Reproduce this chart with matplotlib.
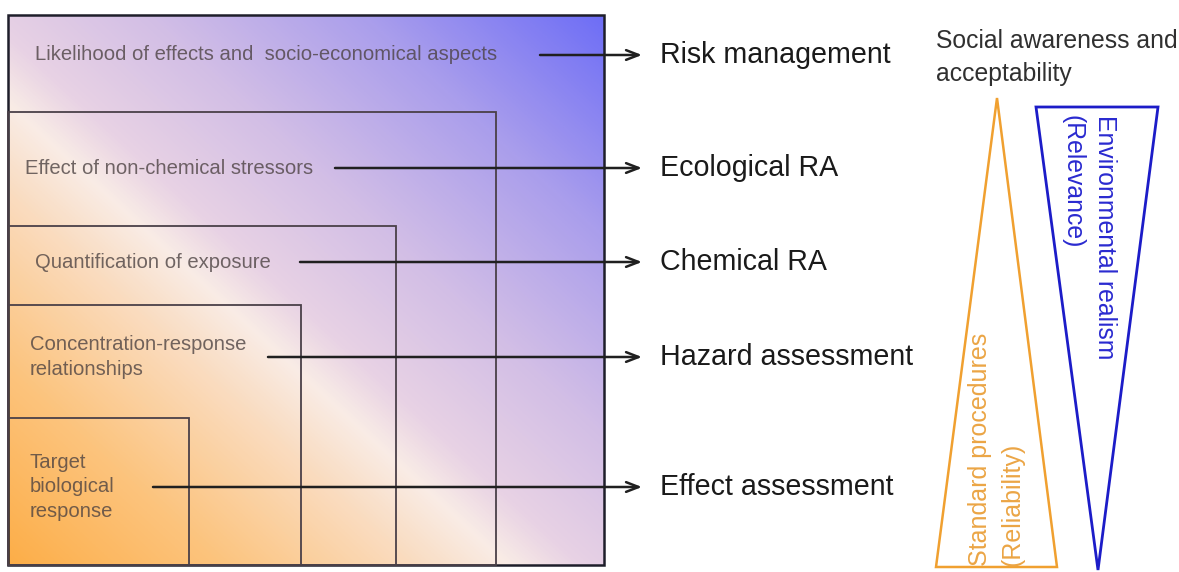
import numpy as np
import matplotlib
matplotlib.use('Agg')
from matplotlib import pyplot as plt
from matplotlib.colors import LinearSegmentedColormap
from matplotlib.patches import Polygon, Rectangle

plt.rcParams['font.family'] = ['Liberation Sans', 'DejaVu Sans']

# nested boxes: (label, right edge, top edge) in pixel units of the picture
box_labels = ['Likelihood of effects and  socio-economical aspects',
              'Effect of non-chemical stressors',
              'Quantification of exposure',
              'Concentration-response\nrelationships',
              'Target\nbiological\nresponse']
box_right = [604, 496, 396, 301, 189]
box_top = [15, 112, 226, 305, 418]
label_x = [35, 25, 35, 30, 30]
label_y = [55, 168, 262, 357, 487]
line_start = [540, 335, 300, 268, 153]
stages = ['Risk management', 'Ecological RA', 'Chemical RA',
          'Hazard assessment', 'Effect assessment']

box_left = 8
box_bottom = 565

fig = plt.figure(figsize=(11.79, 5.72), dpi=100)
ax = fig.add_axes([0, 0, 1, 1])
ax.set_xlim(0, 1179)
ax.set_ylim(572, 0)
ax.axis('off')

# diagonal background gradient (orange bottom-left -> white streak -> blue top-right)
grad = LinearSegmentedColormap.from_list('bg', [
    (0.0, '#fdae48'), (0.18, '#fcc47e'), (0.34, '#fadcc0'), (0.42, '#f9ece6'),
    (0.48, '#e8d2e4'), (0.62, '#d2bee6'), (0.8, '#aa9eec'), (1.0, '#6e6ef6')])
xx, yy = np.meshgrid(np.linspace(0, 1, 400), np.linspace(0, 1, 400))
u = (xx + (1 - yy)) / 2
ax.imshow(u, cmap=grad, extent=[box_left, box_right[0], box_bottom, box_top[0]],
          aspect='auto', origin='upper', zorder=0)

for i in range(len(box_labels)):
    lw = 1.8 if i == 0 else 1.3
    col = '#1e1e2a' if i == 0 else '#4a4048'
    ax.add_patch(Rectangle((box_left, box_top[i]), box_right[i] - box_left,
                           box_bottom - box_top[i], fill=False, lw=lw,
                           edgecolor=col, zorder=2))
    ax.text(label_x[i], label_y[i], box_labels[i], fontsize=14.6, color='#4a4040',
            alpha=0.78, ha='left', va='center', linespacing=1.38, zorder=3)
    ax.annotate('', xy=(642, label_y[i]), xytext=(line_start[i], label_y[i]),
                arrowprops=dict(arrowstyle='->,head_length=0.9,head_width=0.35',
                                lw=1.8, color='#202020', shrinkA=0, shrinkB=0),
                zorder=4)
    ax.text(660, label_y[i], stages[i], fontsize=20.6, color='#1a1a1a',
            ha='left', va='center', zorder=3)

ax.text(936, 29, 'Social awareness and\nacceptability', fontsize=17.8,
        color='#303030', ha='left', va='top', linespacing=1.45)

# reliability / relevance wedges
ax.add_patch(Polygon([(997, 98), (936, 567), (1057, 567)], closed=True,
                     fill=False, edgecolor='#f0a030', lw=1.8))
ax.add_patch(Polygon([(1036, 107), (1158, 107), (1098, 570)], closed=True,
                     fill=False, edgecolor='#1c1cc8', lw=2))
ax.text(980, 566, 'Standard procedures', rotation=90, fontsize=18,
        color='#eba545', ha='center', va='bottom')
ax.text(1013, 566, '(Reliability)', rotation=90, fontsize=18,
        color='#eba545', ha='center', va='bottom')
ax.text(1105, 115, 'Environmental realism', rotation=270, fontsize=17.8,
        color='#2a2ad0', ha='center', va='top')
ax.text(1072, 115, '(Relevance)', rotation=270, fontsize=17.8,
        color='#2a2ad0', ha='center', va='top')

fig.savefig('out.png', dpi=100)
